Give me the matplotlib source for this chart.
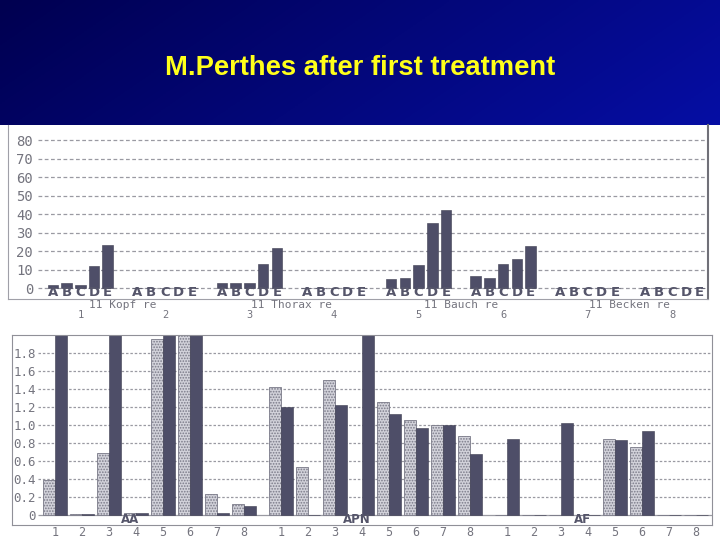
import numpy as np
import matplotlib
matplotlib.use("Agg")
import matplotlib.pyplot as plt

plt.rcParams['hatch.linewidth'] = 0.8

title = "M.Perthes after first treatment"

# upper chart: 8 groups, bars A..E
letters = ["A", "B", "C", "D", "E"]
group_nums = ["1", "2", "3", "4", "5", "6", "7", "8"]
region_names = ["11 Kopf re", "11 Thorax re", "11 Bauch re", "11 Becken re"]
g1 = [1.8, 2.7, 1.8, 11.8, 23.3]
g2 = [0, 0, 0, 0, 0]
g3 = [2.7, 2.7, 3.0, 13.0, 21.5]
g4 = [0, 0, 0, 0, 0]
g5 = [4.9, 5.6, 12.5, 35.3, 42.0]
g6 = [6.7, 5.5, 13.0, 15.6, 22.7]
g7 = [0, 0, 0, 0, 0]
g8 = [0, 0, 0, 0, 0]
top_groups = [g1, g2, g3, g4, g5, g6, g7, g8]
top_ticks = [0, 10, 20, 30, 40, 50, 60, 70, 80]

# lower chart: 3 sections, 8 positions, light (stippled) and dark bar each
sections = ["AA", "APN", "AF"]
pos_labels = ["1", "2", "3", "4", "5", "6", "7", "8"]
aa_light = [0.39, 0.01, 0.69, 0.02, 1.96, 2.1, 0.23, 0.12]
aa_dark = [2.1, 0.01, 2.1, 0.02, 2.1, 2.1, 0.02, 0.10]
apn_light = [1.43, 0.54, 1.50, 0.0, 1.26, 1.06, 1.00, 0.88]
apn_dark = [1.20, 0.0, 1.23, 2.1, 1.12, 0.97, 1.00, 0.68]
af_light = [0, 0, 0, 0, 0.85, 0.76, 0, 0]
af_dark = [0.85, 0, 1.02, 0, 0.83, 0.93, 0, 0]
light_vals = [aa_light, apn_light, af_light]
dark_vals = [aa_dark, apn_dark, af_dark]
bot_ticks = [0, 0.2, 0.4, 0.6, 0.8, 1.0, 1.2, 1.4, 1.6, 1.8]

dark = '#4e4e68'
grey_txt = '#74747e'
mono = 'DejaVu Sans Mono'

fig = plt.figure(figsize=(7.2, 5.4), dpi=100)
fig.patch.set_facecolor('white')

# blue header
hdr = fig.add_axes([0, 415/540, 1, 125/540])
xx = np.linspace(0, 1, 300)
yy = np.linspace(0, 1, 60)
X, Y = np.meshgrid(xx, yy)
t = np.clip(0.8 * X + 0.2 * (1 - Y), 0, 1)
c0 = np.array([0x00, 0x00, 0x50]) / 255
c1 = np.array([0x06, 0x0e, 0xa4]) / 255
img = c0[None, None, :] * (1 - t[..., None]) + c1[None, None, :] * t[..., None]
hdr.imshow(img, aspect='auto', extent=[0, 1, 0, 1], origin='lower')
hdr.set_axis_off()
hdr.text(0.5, (125 - 68) / 125, title, color='#ffff1a', fontsize=19.7,
         fontweight='bold', family='Liberation Sans', ha='center', va='center')

# upper chart
step = 6.17
ax1 = fig.add_axes([8/720, 241/540, 700/720, 174/540])
ax1.set_xlim(-3.28, 47.8)
ax1.set_ylim(-5.8, 88.1)
ax1.hlines(top_ticks, -1.1, 47.8, colors='#9a9aa2', linestyles=(0, (3, 2)), lw=0.9, zorder=1)
for g, vals in enumerate(top_groups):
    xs = [g * step + k for k in range(5)]
    ax1.bar(xs, vals, width=0.77, color=dark, edgecolor='#3c3c50', lw=0.4, zorder=2)
    for x, l in zip(xs, letters):
        ax1.text(x, -2.4, l, ha='center', va='center', fontsize=9.5,
                 fontweight='bold', color='#55556a', zorder=3)
    ax1.text(g * step + 2, -0.09, group_nums[g], transform=ax1.get_xaxis_transform(),
             ha='center', va='center', fontsize=7.5, family=mono, color=grey_txt)
for i, name in enumerate(region_names):
    xc = (2 * i + 0.5) * step + 2
    ax1.text(xc, -0.032, name, transform=ax1.get_xaxis_transform(),
             ha='center', va='center', fontsize=8, family=mono, color=grey_txt)
ax1.set_yticks(top_ticks)
ax1.set_yticklabels([str(v) for v in top_ticks], family=mono, fontsize=10, color=grey_txt)
ax1.tick_params(axis='y', length=0, pad=-18)
ax1.set_xticks([])
ax1.spines['top'].set_visible(False)
ax1.spines['left'].set_color('#a0a0a8')
ax1.spines['bottom'].set_color('#a0a0a8')
ax1.spines['right'].set_color('#707078')
ax1.spines['right'].set_linewidth(1.5)

# lower chart
sec_step = 8.37
w = 0.44
ax2 = fig.add_axes([12/720, 15/540, 700/720, 190/540])
ax2.set_xlim(-1.59, 24.33)
ax2.set_ylim(-0.111, 2.004)
ax2.hlines(bot_ticks[1:], -0.63, 24.33, colors='#9a9aa2', linestyles=(0, (2, 1.5)), lw=0.9, zorder=1)
ax2.hlines(0, -0.63, 24.33, colors='#9a9aa2', lw=0.9, zorder=1)
for s in range(3):
    xs = np.arange(8) + s * sec_step
    ax2.bar(xs - w, light_vals[s], width=w, align='edge', color='#d2d2da',
            edgecolor='#7a7a88', hatch='......', lw=0.6, zorder=2)
    ax2.bar(xs, dark_vals[s], width=w, align='edge', color=dark,
            edgecolor='#3c3c50', lw=0.4, zorder=2)
    ax2.text(s * sec_step + 2.8, -0.055, sections[s], ha='center', va='center',
             fontsize=8.5, fontweight='bold', color='#55556a', zorder=3)
    for p, lab in zip(xs, pos_labels):
        ax2.text(p, -0.04, lab, transform=ax2.get_xaxis_transform(),
                 ha='center', va='center', fontsize=8.5, family=mono, color=grey_txt)
ax2.set_yticks(bot_ticks)
ax2.set_yticklabels(['0'] + [f"{v:.1f}" for v in bot_ticks[1:]], family=mono,
                    fontsize=9, color=grey_txt)
ax2.tick_params(axis='y', length=0, pad=-17)
ax2.set_xticks([])
for sp in ax2.spines.values():
    sp.set_color('#909098')

fig.savefig("out.png", dpi=100)
